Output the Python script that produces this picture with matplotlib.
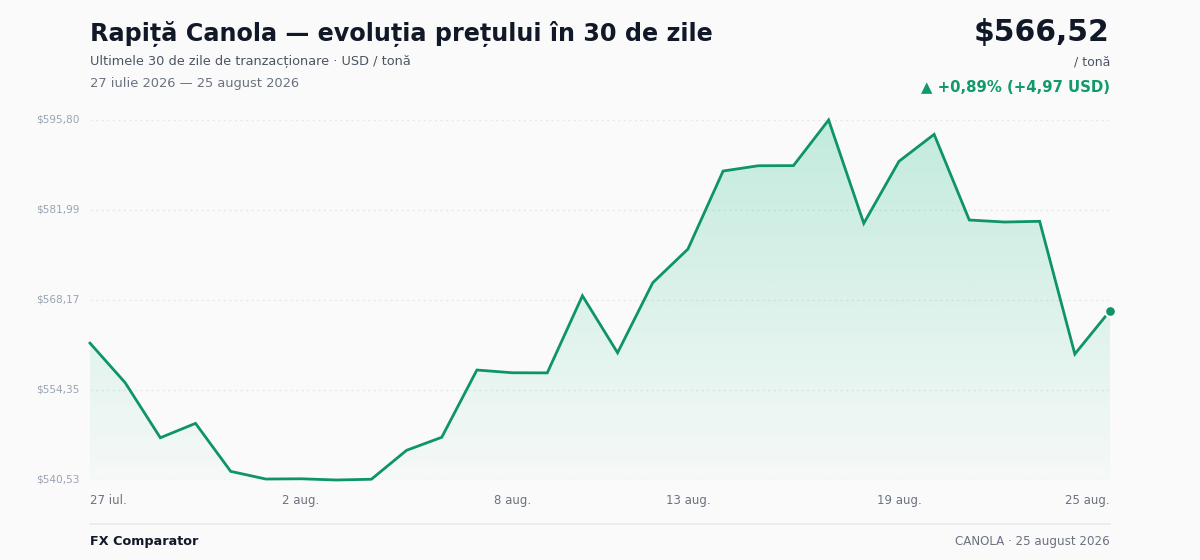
import numpy as np
import matplotlib.pyplot as plt
from matplotlib.path import Path
from matplotlib.patches import PathPatch

# Preturi zilnice (USD / tona), 27 iulie - 25 august 2026
preturi = [561.55, 555.47, 547.02, 549.23, 541.86, 540.68, 540.72, 540.534, 540.65, 545.09,
           547.09, 557.42, 557.00, 556.98, 568.82, 560.07, 570.82, 575.99, 587.97, 588.78,
           588.80, 595.804, 579.94, 589.46, 593.60, 580.45, 580.14, 580.25, 559.87, 566.52]
etichete_x = ['27 iul.', '2 aug.', '8 aug.', '13 aug.', '19 aug.', '25 aug.']
pozitii_x = [0, 6, 12, 17, 23, 29]

VERDE = '#0e9467'
FUNDAL = '#fafafa'
W, H = 1200, 560

def fx(px):
    return px / W

def fy(py):
    return 1 - py / H

fig = plt.figure(figsize=(12, 5.6), dpi=100, facecolor=FUNDAL)
ax = fig.add_axes([fx(90), fy(480), fx(1110) - fx(90), fy(120) - fy(480)])
ax.set_facecolor(FUNDAL)

x = np.arange(len(preturi))
y = np.array(preturi)
ymin, ymax = y.min(), y.max()
ax.set_xlim(0, len(preturi) - 1)
ax.set_ylim(ymin, ymax)

# linii de grila
ticks_y = np.linspace(ymin, ymax, 5)
for t in ticks_y:
    ax.axhline(t, color='#e6e8eb', lw=1, ls=(0, (1.5, 2.5)), zorder=0)

# umplere cu gradient sub linie
verts = [(0, ymin)] + list(zip(x, y)) + [(x[-1], ymin), (0, ymin)]
poligon = PathPatch(Path(verts), facecolor='none', edgecolor='none')
ax.add_patch(poligon)
grad = np.linspace(0.24, 0.02, 256).reshape(-1, 1)
rgba = np.zeros((256, 1, 4))
rgba[..., 0] = 0x10 / 255
rgba[..., 1] = 0xb9 / 255
rgba[..., 2] = 0x81 / 255
rgba[..., 3] = grad
img = ax.imshow(rgba, extent=[0, x[-1], ymin, ymax], origin='upper', aspect='auto', zorder=1)
img.set_clip_path(poligon)

ax.plot(x, y, color=VERDE, lw=2, zorder=3, clip_on=False, solid_joinstyle='miter')
ax.scatter([x[-1]], [y[-1]], s=60, color=VERDE, edgecolor=FUNDAL, linewidth=1.5, zorder=4, clip_on=False)

for s in ax.spines.values():
    s.set_visible(False)
ax.set_xticks([])
ax.set_yticks([])

# etichete axa y
for t in ticks_y:
    ax.text(-0.01, (t - ymin) / (ymax - ymin), '$' + f'{t:.2f}'.replace('.', ','),
            transform=ax.transAxes, ha='right', va='center', fontsize=7.6, color='#9aa3b2')

# etichete axa x
for i, (p, lab) in enumerate(zip(pozitii_x, etichete_x)):
    ha = 'left' if i == 0 else ('right' if i == len(etichete_x) - 1 else 'center')
    ax.text(p, -0.058, lab, transform=ax.get_xaxis_transform(), ha=ha, va='center',
            fontsize=8.5, color='#6b7280')

# antet
fig.text(fx(90), fy(34), 'Rapiță Canola — evoluția prețului în 30 de zile', fontsize=17.2,
         fontweight='bold', color='#111827', va='center', ha='left')
fig.text(fx(90), fy(62), 'Ultimele 30 de zile de tranzacționare · USD / tonă', fontsize=9.3,
         color='#4b5563', va='center', ha='left')
fig.text(fx(90), fy(83), '27 iulie 2026 — 25 august 2026', fontsize=9.35,
         color='#6b7280', va='center', ha='left')

ultim = y[-1]
dif = y[-1] - y[0]
proc = dif / y[0] * 100
fig.text(fx(1110), fy(33), '$' + f'{ultim:.2f}'.replace('.', ','), fontsize=21.5,
         fontweight='bold', color='#111827', va='center', ha='right')
fig.text(fx(1110), fy(62), '/ tonă', fontsize=9, color='#4b5563', va='center', ha='right')
fig.text(fx(1110), fy(87), f'▲ +{proc:.2f}% (+{dif:.2f} USD)'.replace('.', ','), fontsize=10.7,
         fontweight='bold', color='#109a6a', va='center', ha='right')

# subsol
fig.add_artist(plt.Line2D([fx(90), fx(1110)], [fy(524), fy(524)], color='#e8eaed', lw=1.2))
fig.text(fx(90), fy(542), 'FX Comparator', fontsize=9.2, fontweight='bold', color='#111827',
         va='center', ha='left')
fig.text(fx(1110), fy(542), 'CANOLA · 25 august 2026', fontsize=8.6, color='#6b7280',
         va='center', ha='right')

fig.savefig('out.png', dpi=100, facecolor=FUNDAL)
